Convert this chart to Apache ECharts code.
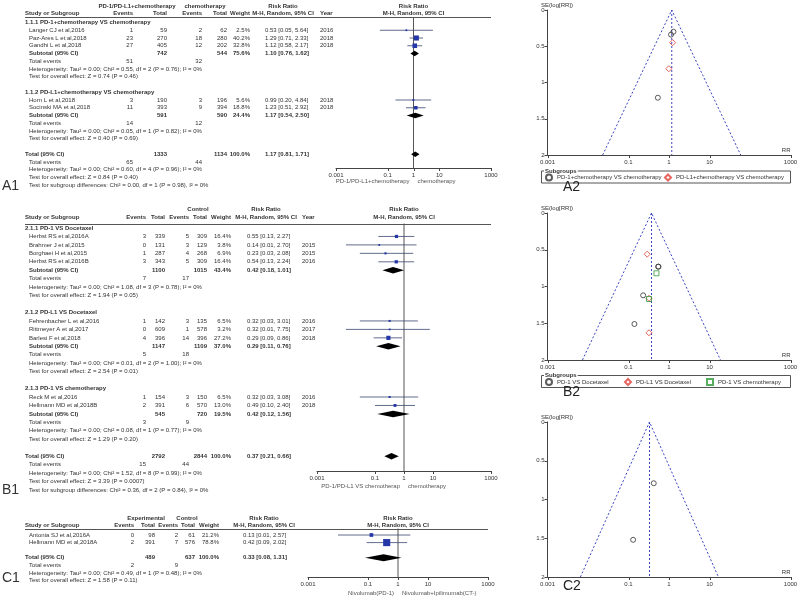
<!DOCTYPE html>
<html>
<head>
<meta charset="utf-8">
<title>Forest and funnel plots</title>
<script src="https://cdn.jsdelivr.net/npm/echarts@6.0.0/dist/echarts.min.js"></script>
<style>
  html, body { margin: 0; padding: 0; background: #fff; }
  #chart { width: 800px; height: 599px; }
</style>
</head>
<body>
<div id="chart"></div>
<script>
const FONT = '"Liberation Sans", Arial, sans-serif';
const FS = 6;
const INK = '#333';
const AXIS_TICKS = [0.001, 0.1, 1, 10, 1000];

// ---------- A1: PD-1/PD-L1 + chemotherapy vs chemotherapy ----------
const a1GroupNames = ['1.1.1 PD-1+chemotherapy VS chemotherapy', '1.1.2 PD-L1+chemotherapy VS chemotherapy'];
const a1StudyGroup = [0, 0, 0, 1, 1];
const a1Studies = ['Langer CJ et al,2016', 'Paz-Ares L et al,2018', 'Gandhi L et al,2018', 'Horn L et al,2018', 'Socinski MA et al,2018'];
const a1ExpEvents = [1, 23, 27, 3, 11];
const a1ExpTotal = [59, 270, 405, 190, 393];
const a1CtlEvents = [2, 18, 12, 3, 9];
const a1CtlTotal = [62, 280, 202, 196, 394];
const a1Weight = [2.5, 40.2, 32.8, 5.6, 18.8];
const a1RR = [0.53, 1.29, 1.12, 0.99, 1.23];
const a1Lo = [0.05, 0.71, 0.58, 0.20, 0.51];
const a1Hi = [5.64, 2.33, 2.17, 4.84, 2.92];
const a1Year = ['2016', '2018', '2018', '2018', '2018'];
const a1SubExpTotal = [742, 591];
const a1SubCtlTotal = [544, 590];
const a1SubWeight = [75.6, 24.4];
const a1SubRR = [1.10, 1.17];
const a1SubLo = [0.76, 0.54];
const a1SubHi = [1.62, 2.50];
const a1SubExpEvents = [51, 14];
const a1SubCtlEvents = [32, 12];
const a1SubHet = ['Tau² = 0.00; Chi² = 0.55, df = 2 (P = 0.76); I² = 0%', 'Tau² = 0.00; Chi² = 0.05, df = 1 (P = 0.82); I² = 0%'];
const a1SubZ = ['Z = 0.74 (P = 0.46)', 'Z = 0.40 (P = 0.69)'];
const a1Overall = [1.17, 0.81, 1.71];
const a1OverallTotal = [1333, 1134];
const a1OverallEvents = [65, 44];
const a1OverallHet = 'Tau² = 0.00; Chi² = 0.60, df = 4 (P = 0.96); I² = 0%';
const a1OverallZ = 'Z = 0.84 (P = 0.40)';
const a1SubgroupDiff = 'Chi² = 0.00, df = 1 (P = 0.98), I² = 0%';

// ---------- B1: PD-1/PD-L1 vs docetaxel / chemotherapy ----------
const b1GroupNames = ['2.1.1 PD-1 VS Docetaxel', '2.1.2 PD-L1 VS Docetaxel', '2.1.3 PD-1 VS chemotherapy'];
const b1StudyGroup = [0, 0, 0, 0, 1, 1, 1, 2, 2];
const b1Studies = ['Herbst RS et al,2016A', 'Brahmer J et al,2015', 'Borghaei H et al,2015', 'Herbst RS et al,2016B',
  'Fehrenbacher L et al,2016', 'Rittmeyer A et al,2017', 'Barlesi F et al,2018', 'Reck M et al,2016', 'Hellmann MD et al,2018B'];
const b1ExpEvents = [3, 0, 1, 3, 1, 0, 4, 1, 2];
const b1ExpTotal = [339, 131, 287, 343, 142, 609, 396, 154, 391];
const b1CtlEvents = [5, 3, 4, 5, 3, 1, 14, 3, 6];
const b1CtlTotal = [309, 129, 268, 309, 135, 578, 396, 150, 570];
const b1Weight = [16.4, 3.8, 6.9, 16.4, 6.5, 3.2, 27.2, 6.5, 13.0];
const b1RR = [0.55, 0.14, 0.23, 0.54, 0.32, 0.32, 0.29, 0.32, 0.49];
const b1Lo = [0.13, 0.01, 0.03, 0.13, 0.03, 0.01, 0.09, 0.03, 0.10];
const b1Hi = [2.27, 2.70, 2.08, 2.24, 3.01, 7.75, 0.86, 3.08, 2.40];
const b1Year = ['', '2015', '2015', '2016', '2016', '2017', '2018', '2016', '2018'];
const b1SubExpTotal = [1100, 1147, 545];
const b1SubCtlTotal = [1015, 1109, 720];
const b1SubWeight = [43.4, 37.0, 19.5];
const b1SubRR = [0.42, 0.29, 0.42];
const b1SubLo = [0.18, 0.11, 0.12];
const b1SubHi = [1.01, 0.76, 1.56];
const b1SubExpEvents = [7, 5, 3];
const b1SubCtlEvents = [17, 18, 9];
const b1SubHet = ['Tau² = 0.00; Chi² = 1.08, df = 3 (P = 0.78); I² = 0%', 'Tau² = 0.00; Chi² = 0.01, df = 2 (P = 1.00); I² = 0%',
  'Tau² = 0.00; Chi² = 0.08, df = 1 (P = 0.77); I² = 0%'];
const b1SubZ = ['Z = 1.94 (P = 0.05)', 'Z = 2.54 (P = 0.01)', 'Z = 1.29 (P = 0.20)'];
const b1Overall = [0.37, 0.21, 0.66];
const b1OverallTotal = [2792, 2844];
const b1OverallEvents = [15, 44];
const b1OverallHet = 'Tau² = 0.00; Chi² = 1.52, df = 8 (P = 0.99); I² = 0%';
const b1OverallZ = 'Z = 3.39 (P = 0.0007)';
const b1SubgroupDiff = 'Chi² = 0.36, df = 2 (P = 0.84), I² = 0%';

// ---------- C1: nivolumab vs nivolumab + ipilimumab ----------
const c1Studies = ['Antonia SJ et al,2016A', 'Hellmann MD et al,2018A'];
const c1ExpEvents = [0, 2];
const c1ExpTotal = [98, 391];
const c1CtlEvents = [2, 7];
const c1CtlTotal = [61, 576];
const c1Weight = [21.2, 78.8];
const c1RR = [0.13, 0.42];
const c1Lo = [0.01, 0.09];
const c1Hi = [2.57, 2.02];
const c1Overall = [0.33, 0.08, 1.31];
const c1OverallTotal = [489, 637];
const c1OverallEvents = [2, 9];
const c1OverallHet = 'Tau² = 0.00; Chi² = 0.49, df = 1 (P = 0.48); I² = 0%';
const c1OverallZ = 'Z = 1.58 (P = 0.11)';

// ---------- funnel plots (RR, SE(log RR)) ----------
const a2Pd1RR = [0.53, 1.29, 1.12];
const a2Pd1SE = [1.21, 0.30, 0.34];
const a2Pdl1RR = [0.99, 1.23];
const a2Pdl1SE = [0.81, 0.45];
const a2FunnelRR = [0.023, 1.17, 59];
const a2FunnelSE = [2, 0, 2];

const b2Pd1DocRR = [0.55, 0.14, 0.23, 0.54];
const b2Pd1DocSE = [0.73, 1.51, 1.12, 0.73];
const b2Pdl1DocRR = [0.32, 0.32, 0.29];
const b2Pdl1DocSE = [1.16, 1.63, 0.56];
const b2Pd1ChemoRR = [0.32, 0.49];
const b2Pd1ChemoSE = [1.17, 0.82];
const b2FunnelRR = [0.0073, 0.37, 18.7];
const b2FunnelSE = [2, 0, 2];

const c2RR = [0.13, 0.42];
const c2SE = [1.52, 0.79];
const c2FunnelRR = [0.0065, 0.33, 16.6];
const c2FunnelSE = [2, 0, 2];

// ------------------------------------------------------------
const grids = [], xAxes = [], yAxes = [], series = [], legends = [], graphics = [];

function addGrid(rect, xa, ya) {
  grids.push(Object.assign({ containLabel: false, outerBoundsMode: 'none' }, rect));
  const i = grids.length - 1;
  xAxes.push(Object.assign({ gridIndex: i }, xa));
  yAxes.push(Object.assign({ gridIndex: i }, ya));
  return i;
}

function logAxis(extra) {
  return Object.assign({
    type: 'log', logBase: 10, min: 0.001, max: 1000,
    axisLine: { show: true, onZero: false, lineStyle: { color: '#444', width: 1 } },
    axisTick: { show: false }, axisLabel: { show: false },
    splitLine: { show: false }, minorTick: { show: false }, minorSplitLine: { show: false }
  }, extra || {});
}

function textSeries(cells, gi) {
  return {
    type: 'custom', xAxisIndex: gi, yAxisIndex: gi, silent: true, clip: false, animation: false, z: 5,
    data: cells.map(c => [c.x, c.row]),
    renderItem(p, api) {
      const c = cells[p.dataIndex];
      const pt = api.coord([c.x, c.row]);
      if (c.x2 !== undefined) {
        const q = api.coord([c.x2, c.row]);
        const y = Math.round(pt[1]) + 0.5;
        return { type: 'line', shape: { x1: pt[0], y1: y, x2: q[0], y2: y }, style: { stroke: '#555', lineWidth: 1 } };
      }
      return {
        type: 'text', x: pt[0] + (c.dx || 0), y: pt[1],
        style: {
          text: c.text, fill: c.color || INK, fontSize: c.size || FS, fontWeight: c.bold ? 'bold' : 'normal',
          fontFamily: FONT, align: c.align || 'left', verticalAlign: 'middle'
        }
      };
    }
  };
}

function tickSeries(gi, yVal, vals) {
  return {
    type: 'custom', xAxisIndex: gi, yAxisIndex: gi, silent: true, clip: false, animation: false, z: 5,
    data: vals.map(v => [v, yVal]),
    renderItem(p, api) {
      const pt = api.coord([vals[p.dataIndex], yVal]);
      const x = Math.round(pt[0]) + 0.5;
      return {
        type: 'group', children: [
          { type: 'line', shape: { x1: x, y1: pt[1], x2: x, y2: pt[1] + 3 }, style: { stroke: '#444', lineWidth: 1 } },
          { type: 'text', x: pt[0], y: pt[1] + 4, style: { text: String(vals[p.dataIndex]), fill: INK, fontSize: FS, fontFamily: FONT, align: 'center', verticalAlign: 'top' } }
        ]
      };
    }
  };
}

function markSeries(marks, gi, diamondH) {
  return {
    type: 'custom', xAxisIndex: gi, yAxisIndex: gi, silent: true, clip: false, animation: false, z: 4,
    data: marks.map(m => [m.rr, m.row, m.lo, m.hi]),
    encode: { x: [0, 2, 3], y: 1 },
    renderItem(p, api) {
      const m = marks[p.dataIndex];
      const c = api.coord([m.rr, m.row]);
      const l = api.coord([m.lo, m.row])[0];
      const r = api.coord([m.hi, m.row])[0];
      if (m.kind === 'study') {
        const s = Math.max(1.8, Math.sqrt(m.w) * 0.8);
        return {
          type: 'group', children: [
            { type: 'line', shape: { x1: l, y1: c[1], x2: r, y2: c[1] }, style: { stroke: '#3a4670', lineWidth: 0.8 } },
            { type: 'rect', shape: { x: c[0] - s / 2, y: c[1] - s / 2, width: s, height: s }, style: { fill: '#2436a8' } }
          ]
        };
      }
      const h = diamondH / 2;
      return { type: 'polygon', shape: { points: [[l, c[1]], [c[0], c[1] - h], [r, c[1]], [c[0], c[1] + h]] }, style: { fill: '#000' } };
    }
  };
}

function buildRows(d) {
  const rows = [];
  const study = i => ({
    kind: 'study', name: d.studies[i], ee: d.expEv[i], et: d.expTot[i], ce: d.ctlEv[i], ct: d.ctlTot[i],
    w: d.weight[i], rr: d.rr[i], lo: d.lo[i], hi: d.hi[i], year: d.year ? d.year[i] : ''
  });
  if (d.groupNames) {
    d.groupNames.forEach((gName, g) => {
      rows.push({ kind: 'group', name: gName });
      d.studies.forEach((s, i) => { if (d.studyGroup[i] === g) rows.push(study(i)); });
      rows.push({ kind: 'sub', name: 'Subtotal (95% CI)', et: d.subExpTot[g], ct: d.subCtlTot[g], w: d.subWeight[g], rr: d.subRR[g], lo: d.subLo[g], hi: d.subHi[g] });
      rows.push({ kind: 'events', ee: d.subExpEv[g], ce: d.subCtlEv[g] });
      rows.push({ kind: 'note', name: 'Heterogeneity: ' + d.subHet[g] });
      rows.push({ kind: 'note', name: 'Test for overall effect: ' + d.subZ[g] });
      rows.push({ kind: 'blank' });
    });
  } else {
    d.studies.forEach((s, i) => rows.push(study(i)));
    rows.push({ kind: 'blank' });
  }
  rows.push({ kind: 'total', name: 'Total (95% CI)', et: d.totN[0], ct: d.totN[1], w: 100, rr: d.tot[0], lo: d.tot[1], hi: d.tot[2] });
  rows.push({ kind: 'events', ee: d.totEv[0], ce: d.totEv[1] });
  rows.push({ kind: 'note', name: 'Heterogeneity: ' + d.totHet });
  rows.push({ kind: 'note', name: 'Test for overall effect: ' + d.totZ });
  if (d.subDiff) rows.push({ kind: 'note', name: 'Test for subgroup differences: ' + d.subDiff });
  return rows;
}

const ci = (rr, lo, hi) => `${rr.toFixed(2)} [${lo.toFixed(2)}, ${hi.toFixed(2)}]`;

function forestPanel(d, L) {
  const rows = buildRows(d);
  const rowOf = y => (y - L.y0) / L.dy;
  const tg = addGrid({ left: 0, top: 0, width: 800, height: 599 },
    { type: 'value', show: false, min: 0, max: 800 },
    { type: 'value', show: false, inverse: true, min: rowOf(0), max: rowOf(599) });

  const cells = [];
  const t = (x, row, text, o) => cells.push(Object.assign({ x, row, text: String(text) }, o || {}));
  const h1 = rowOf(L.h1), h2 = rowOf(L.h2);
  if (L.expHdr) t(L.expHdr[0], h1, L.expHdr[1], { align: 'center', bold: true });
  if (L.ctlHdr) t(L.ctlHdr[0], h1, L.ctlHdr[1], { align: 'center', bold: true });
  t(L.ciHdr, h1, 'Risk Ratio', { align: 'center', bold: true });
  t(L.grp, h2, 'Study or Subgroup', { bold: true });
  t(L.expEv, h2, 'Events', { align: 'right', bold: true });
  t(L.expTot, h2, 'Total', { align: 'right', bold: true });
  t(L.ctlEv, h2, 'Events', { align: 'right', bold: true });
  t(L.ctlTot, h2, 'Total', { align: 'right', bold: true });
  t(L.weight, h2, 'Weight', { align: 'right', bold: true });
  t(L.ciHdr, h2, 'M-H, Random, 95% CI', { align: 'center', bold: true });
  if (L.year) t(L.year, h2, 'Year', { bold: true });
  cells.push({ x: L.grp, x2: L.fRight, row: rowOf(L.lineY) });

  rows.forEach((r, i) => {
    if (r.kind === 'group') t(L.grp, i, r.name, { bold: true });
    if (r.kind === 'study') {
      t(L.name, i, r.name);
      t(L.expEv, i, r.ee, { align: 'right' });
      t(L.expTot, i, r.et, { align: 'right' });
      t(L.ctlEv, i, r.ce, { align: 'right' });
      t(L.ctlTot, i, r.ct, { align: 'right' });
      t(L.weight, i, r.w.toFixed(1) + '%', { align: 'right' });
      t(L.ci, i, ci(r.rr, r.lo, r.hi));
      if (L.year && r.year) t(L.year, i, r.year);
    }
    if (r.kind === 'sub' || r.kind === 'total') {
      t(r.kind === 'total' ? L.grp : L.name, i, r.name, { bold: true });
      t(L.expTot, i, r.et, { align: 'right', bold: true });
      t(L.ctlTot, i, r.ct, { align: 'right', bold: true });
      t(L.weight, i, r.w.toFixed(1) + '%', { align: 'right', bold: true });
      t(L.ci, i, ci(r.rr, r.lo, r.hi), { bold: true });
    }
    if (r.kind === 'events') {
      t(L.name, i, 'Total events');
      t(L.expEv, i, r.ee, { align: 'right' });
      t(L.ctlEv, i, r.ce, { align: 'right' });
    }
    if (r.kind === 'note') t(L.name, i, r.name);
  });
  t(L.label[0], rowOf(L.label[1]), L.label[2], { size: 14 });
  series.push(textSeries(cells, tg));

  // forest plot area on a log scale
  const yTop = rowOf(L.lineY), yBot = rowOf(L.axisY);
  const fg = addGrid({ left: L.fLeft, top: L.lineY, width: L.fRight - L.fLeft, height: L.axisY - L.lineY },
    logAxis(), { type: 'value', show: false, inverse: true, min: yTop, max: yBot });
  series.push({
    type: 'line', xAxisIndex: fg, yAxisIndex: fg, data: [[1, yTop], [1, yBot]], symbol: 'none',
    lineStyle: { color: '#555', width: 1 }, silent: true, animation: false, z: 2
  });
  const marks = rows.map((r, i) => Object.assign({ row: i }, r)).filter(r => r.kind === 'study' || r.kind === 'sub' || r.kind === 'total');
  series.push(markSeries(marks, fg, L.diamondH));
  series.push(tickSeries(fg, yBot, AXIS_TICKS));
  series.push(textSeries([
    { x: 1, row: h1, text: 'Risk Ratio', align: 'center', bold: true },
    { x: 1, row: h2, text: 'M-H, Random, 95% CI', align: 'center', bold: true },
    { x: 1, row: rowOf(L.footY), text: L.foot[0], align: 'right', dx: -4, color: '#555' },
    { x: 1, row: rowOf(L.footY), text: L.foot[1], align: 'left', dx: 4, color: '#555' }
  ], fg));
}

const FUN_LEFT = 547.5, FUN_RIGHT = 790.5;

function funnelPanel(F) {
  const gi = addGrid({ left: FUN_LEFT, top: F.top, width: FUN_RIGHT - FUN_LEFT, height: F.bottom - F.top },
    logAxis({
      name: 'RR', nameLocation: 'end', nameGap: 0,
      nameTextStyle: { fontSize: FS, color: INK, fontFamily: FONT, align: 'right', verticalAlign: 'bottom', padding: [0, 0, 2, 0] }
    }),
    {
      type: 'value', inverse: true, min: 0, max: 2, interval: 0.5,
      axisLine: { show: true, onZero: false, lineStyle: { color: '#444', width: 1 } },
      axisTick: { show: true, length: 3, lineStyle: { color: '#444' } },
      axisLabel: { fontSize: FS, color: INK, fontFamily: FONT, margin: 3 },
      splitLine: { show: false }
    });
  series.push(tickSeries(gi, 2, AXIS_TICKS));
  const dash = { color: '#3a45c0', width: 1, type: [2, 2] };
  series.push({
    type: 'line', xAxisIndex: gi, yAxisIndex: gi, symbol: 'none', silent: true, animation: false,
    data: F.funnelRR.map((v, i) => [v, F.funnelSE[i]]), lineStyle: dash
  });
  series.push({
    type: 'line', xAxisIndex: gi, yAxisIndex: gi, symbol: 'none', silent: true, animation: false,
    data: [[F.funnelRR[1], 0], [F.funnelRR[1], 2]], lineStyle: dash
  });
  F.groups.forEach(g => {
    series.push({
      type: 'scatter', name: g.name, xAxisIndex: gi, yAxisIndex: gi, animation: false, z: 4,
      data: g.rr.map((v, i) => [v, g.se[i]]), symbol: g.symbol, symbolSize: g.size,
      itemStyle: { color: 'rgba(255,255,255,0)', borderColor: g.color, borderWidth: 1 }
    });
    if (g.legendX !== undefined) {
      legends.push({
        data: [g.name], left: g.legendX, top: F.legendY + 3, itemWidth: 6, itemHeight: 6, itemGap: 0, padding: 0,
        selectedMode: false, textStyle: { fontSize: FS, color: INK, fontFamily: FONT }
      });
    }
  });
  graphics.push({ type: 'text', x: 541, y: F.top - 5, style: { text: 'SE(log[RR])', fontSize: FS, fill: INK, fontFamily: FONT, verticalAlign: 'middle' } });
  if (F.legendY !== undefined) {
    graphics.push({ type: 'rect', shape: { x: 541.5, y: F.legendY + 0.5, width: 249, height: 12 }, style: { fill: 'none', stroke: '#555', lineWidth: 1 } });
    graphics.push({ type: 'text', x: 544, y: F.legendY + 0.5, style: { text: 'Subgroups', fontSize: FS, fontWeight: 'bold', fill: INK, fontFamily: FONT, backgroundColor: '#fff', padding: [0, 1], verticalAlign: 'middle' } });
  }
  graphics.push({ type: 'text', x: F.label[0], y: F.label[1], style: { text: F.label[2], fontSize: 14, fill: '#222', fontFamily: FONT, verticalAlign: 'middle' } });
}

// ---------- panels ----------
forestPanel({
  groupNames: a1GroupNames, studyGroup: a1StudyGroup, studies: a1Studies, expEv: a1ExpEvents, expTot: a1ExpTotal,
  ctlEv: a1CtlEvents, ctlTot: a1CtlTotal, weight: a1Weight, rr: a1RR, lo: a1Lo, hi: a1Hi, year: a1Year,
  subExpTot: a1SubExpTotal, subCtlTot: a1SubCtlTotal, subWeight: a1SubWeight, subRR: a1SubRR, subLo: a1SubLo, subHi: a1SubHi,
  subExpEv: a1SubExpEvents, subCtlEv: a1SubCtlEvents, subHet: a1SubHet, subZ: a1SubZ,
  tot: a1Overall, totN: a1OverallTotal, totEv: a1OverallEvents, totHet: a1OverallHet, totZ: a1OverallZ, subDiff: a1SubgroupDiff
}, {
  y0: 22.5, dy: 7.75, h1: 6, h2: 13.5, lineY: 17.5, grp: 25, name: 29,
  expEv: 133, expTot: 167, ctlEv: 202, ctlTot: 227, weight: 250, ci: 265, ciHdr: 283, year: 320,
  expHdr: [137, 'PD-1/PD-L1+chemotherapy'], ctlHdr: [205, 'chemotherapy'],
  fLeft: 336, fRight: 491, axisY: 168, footY: 181, diamondH: 5.5,
  foot: ['PD-1/PD-L1+chemotherapy', 'chemotherapy'], label: [2, 186, 'A1']
});

forestPanel({
  groupNames: b1GroupNames, studyGroup: b1StudyGroup, studies: b1Studies, expEv: b1ExpEvents, expTot: b1ExpTotal,
  ctlEv: b1CtlEvents, ctlTot: b1CtlTotal, weight: b1Weight, rr: b1RR, lo: b1Lo, hi: b1Hi, year: b1Year,
  subExpTot: b1SubExpTotal, subCtlTot: b1SubCtlTotal, subWeight: b1SubWeight, subRR: b1SubRR, subLo: b1SubLo, subHi: b1SubHi,
  subExpEv: b1SubExpEvents, subCtlEv: b1SubCtlEvents, subHet: b1SubHet, subZ: b1SubZ,
  tot: b1Overall, totN: b1OverallTotal, totEv: b1OverallEvents, totHet: b1OverallHet, totZ: b1OverallZ, subDiff: b1SubgroupDiff
}, {
  y0: 228, dy: 8.45, h1: 209, h2: 217.5, lineY: 223.5, grp: 25, name: 29,
  expEv: 146, expTot: 165, ctlEv: 189, ctlTot: 207, weight: 231, ci: 247, ciHdr: 266, year: 302,
  expHdr: null, ctlHdr: [198, 'Control'],
  fLeft: 317, fRight: 491, axisY: 471, footY: 486, diamondH: 6.5,
  foot: ['PD-1/PD-L1 VS chemotherap', 'chemotherapy'], label: [2, 490, 'B1']
});

forestPanel({
  studies: c1Studies, expEv: c1ExpEvents, expTot: c1ExpTotal, ctlEv: c1CtlEvents, ctlTot: c1CtlTotal,
  weight: c1Weight, rr: c1RR, lo: c1Lo, hi: c1Hi,
  tot: c1Overall, totN: c1OverallTotal, totEv: c1OverallEvents, totHet: c1OverallHet, totZ: c1OverallZ
}, {
  y0: 535, dy: 7.6, h1: 518.5, h2: 525, lineY: 528.5, grp: 25, name: 29,
  expEv: 134, expTot: 155, ctlEv: 178, ctlTot: 195, weight: 219, ci: 243, ciHdr: 264, year: null,
  expHdr: [146, 'Experimental'], ctlHdr: [187, 'Control'],
  fLeft: 308, fRight: 488, axisY: 577, footY: 593, diamondH: 7,
  foot: ['Nivolumab(PD-1)', 'Nivolumab+Ipilimumab(CT-)'], label: [2, 578, 'C1']
});

funnelPanel({
  top: 10, bottom: 155, legendY: 170.5, funnelRR: a2FunnelRR, funnelSE: a2FunnelSE, label: [563, 187, 'A2'],
  groups: [
    { name: 'PD-1+chemotherapy VS chemotherapy', rr: a2Pd1RR, se: a2Pd1SE, symbol: 'circle', size: 5, color: '#333', legendX: 545 },
    { name: 'PD-L1+chemotherapy VS chemotherapy', rr: a2Pdl1RR, se: a2Pdl1SE, symbol: 'diamond', size: 6, color: '#e0403a', legendX: 664 }
  ]
});

funnelPanel({
  top: 213, bottom: 360, legendY: 375, funnelRR: b2FunnelRR, funnelSE: b2FunnelSE, label: [563, 392, 'B2'],
  groups: [
    { name: 'PD-1 VS Docetaxel', rr: b2Pd1DocRR, se: b2Pd1DocSE, symbol: 'circle', size: 5, color: '#333', legendX: 545 },
    { name: 'PD-L1 VS Docetaxel', rr: b2Pdl1DocRR, se: b2Pdl1DocSE, symbol: 'diamond', size: 6, color: '#e0403a', legendX: 624 },
    { name: 'PD-1 VS chemotherapy', rr: b2Pd1ChemoRR, se: b2Pd1ChemoSE, symbol: 'rect', size: 5, color: '#2e9a36', legendX: 706 }
  ]
});

funnelPanel({
  top: 422, bottom: 577, funnelRR: c2FunnelRR, funnelSE: c2FunnelSE, label: [563, 586, 'C2'],
  groups: [
    { name: 'Nivolumab VS Nivolumab+Ipilimumab', rr: c2RR, se: c2SE, symbol: 'circle', size: 5, color: '#333' }
  ]
});

const chart = echarts.init(document.getElementById('chart'));
chart.setOption({
  animation: false,
  backgroundColor: '#fff',
  grid: grids,
  xAxis: xAxes,
  yAxis: yAxes,
  legend: legends,
  graphic: graphics,
  series: series
});
</script>
</body>
</html>
